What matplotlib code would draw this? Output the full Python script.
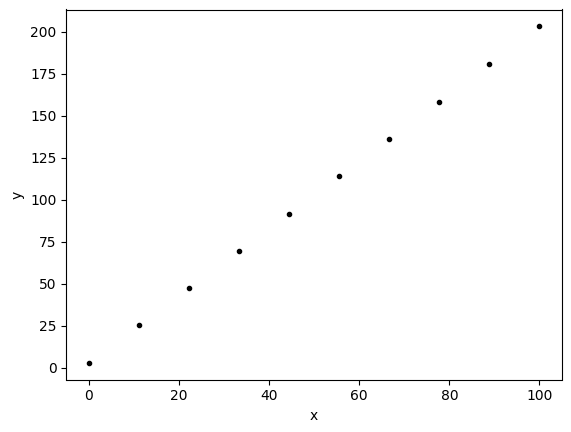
import matplotlib
matplotlib.use("Agg")
import matplotlib.pyplot as plt

x = [0, 11.11, 22.22, 33.33, 44.44, 55.56, 66.67, 77.78, 88.89, 100]
y = [3.0, 25.2, 47.5, 69.6, 91.7, 114.0, 136.3, 158.3, 180.8, 203.1]

fig = plt.figure(figsize=(5.71, 4.32), dpi=100)
ax = fig.add_axes([66.3 / 571, 1 - 379.5 / 432, 495.7 / 571, 370 / 432])
ax.plot(x, y, 'k.')
ax.set_xlabel('x')
ax.set_ylabel('y')
fig.savefig('out.png', dpi=100)
